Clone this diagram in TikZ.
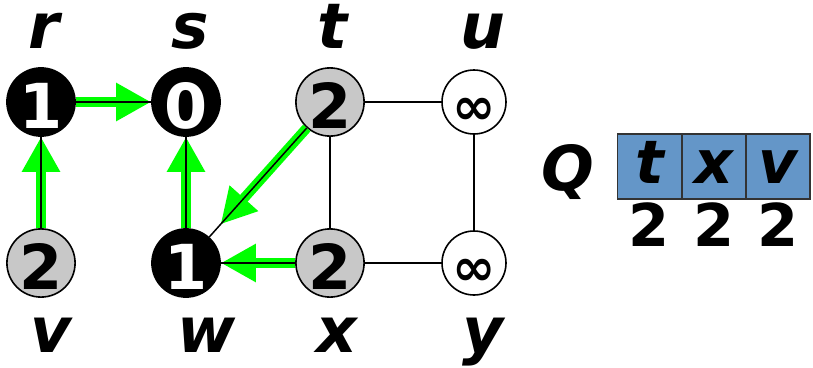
\documentclass[tikz,border=0pt]{standalone}
\usepackage{fontspec}
\setmainfont{DejaVu Sans}
\usetikzlibrary{arrows.meta}
\definecolor{qblue}{RGB}{100,150,200}
\definecolor{ngray}{RGB}{200,200,200}
\definecolor{agreen}{RGB}{0,255,0}
\begin{document}
\begin{tikzpicture}[x=1pt,y=-1pt,
  vnode/.style={circle,draw=black,line width=1.6pt,minimum size=64pt,inner sep=0pt,
    font=\bfseries\fontsize{62}{62}\selectfont,text height=53pt,text depth=0pt},
  blk/.style={vnode,fill=black,text=white},
  gry/.style={vnode,fill=ngray,text=black},
  wht/.style={vnode,fill=white,text=black,font=\bfseries\fontsize{52}{52}\selectfont,text height=44pt,text depth=0pt},
  vlabel/.style={font=\bfseries\itshape\fontsize{63}{63}\selectfont,anchor=base,inner sep=0pt},
  edge/.style={draw=black,line width=1.5pt},
  garrow/.style={draw=agreen,line width=10pt,-{Triangle[length=35pt,width=36pt]}},
  qcell/.style={rectangle,draw=black!80,line width=1.2pt,fill=qblue,minimum width=64pt,minimum height=65pt,inner sep=0pt,
    font=\bfseries\itshape\fontsize{60}{60}\selectfont,text height=33pt,text depth=0pt},
  qnum/.style={font=\bfseries\fontsize{59}{59}\selectfont,inner sep=0pt}
]
\useasboundingbox (0,0) rectangle (813,367);
% vertices
\node[blk] (r) at (41,102) {1};
\node[blk] (s) at (186,102) {0};
\node[gry] (t) at (330,102) {2};
\node[wht] (u) at (474,102) {∞};
\node[gry] (v) at (41,263) {2};
\node[blk] (w) at (186,263) {1};
\node[gry] (x) at (330,263) {2};
\node[wht] (y) at (474,263) {∞};
% vertex labels
\node[vlabel] (lr) at (44,48) {r};
\node[vlabel] (ls) at (190,48) {s};
\node[vlabel] (lt) at (333,48) {t};
\node[vlabel] (lu) at (483,48) {u};
\node[vlabel] (lv) at (51,352) {v};
\node[vlabel] (lw) at (207,352) {w};
\node[vlabel] (lx) at (337,352) {x};
\node[vlabel] (ly) at (483,352) {y};
% tree arrows
\draw[garrow] (v) -- (r);
\draw[garrow] (r) -- (s);
\draw[garrow] (w) -- (s);
\draw[garrow,shorten >=17pt] (t) -- (w);
\draw[garrow] (x) -- (w);
% edges
\draw[edge] (v) -- (r);
\draw[edge] (r) -- (s);
\draw[edge] (w) -- (s);
\draw[edge] (t) -- (w);
\draw[edge] (x) -- (w);
\draw[edge] (t) -- (u);
\draw[edge] (t) -- (x);
\draw[edge] (u) -- (y);
\draw[edge] (x) -- (y);
% queue
\node[font=\bfseries\itshape\fontsize{62}{62}\selectfont,inner sep=0pt] (Q) at (568,172) {Q};
\node[qcell] (q1) at (649.5,166.5) {t};
\node[qcell] (q2) at (714,166.5) {x};
\node[qcell] (q3) at (778,166.5) {v};
\node[qnum,anchor=north,yshift=-3pt] (n1) at (q1.south) {2};
\node[qnum,anchor=north,yshift=-3pt] (n2) at (q2.south) {2};
\node[qnum,anchor=north,yshift=-3pt] (n3) at (q3.south) {2};
\end{tikzpicture}
\end{document}
